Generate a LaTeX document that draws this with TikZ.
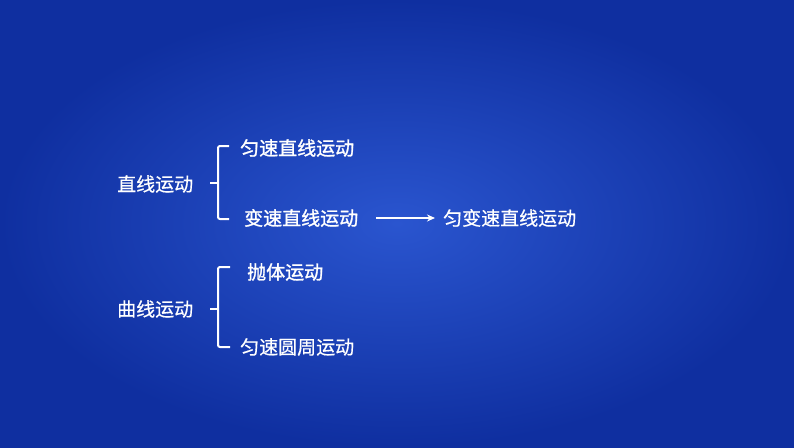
\documentclass[tikz,border=0pt]{standalone}
\usepackage{fontspec}
\newfontfamily\cjk[FakeBold=0.6]{Noto Sans CJK SC}
\newfontfamily\cjkb[FakeBold=1.4]{Noto Sans CJK SC}
\usetikzlibrary{arrows.meta}
\definecolor{bgin}{HTML}{2A55CF}
\definecolor{bgout}{HTML}{0F2FA0}
\begin{document}
\begin{tikzpicture}[x=1pt,y=-1pt,
  lbl/.style={text=white,font=\cjk\fontsize{19}{19}\selectfont,inner sep=0pt,anchor=west},
  lblb/.style={lbl,font=\cjkb\fontsize{19}{19}\selectfont},
  brace/.style={draw=white,line width=2pt,rounded corners=2pt},
  conn/.style={draw=white,line width=1.6pt,-{Stealth[length=8pt,width=7pt]}}]
\useasboundingbox (0,0) rectangle (794,447);
\shade[inner color=bgin,outer color=bgout] (0,0) rectangle (794,447);
% group 1
\node[lbl] (zx) at (117,184) {直线运动};
\node[lblb] (ys) at (240,148) {匀速直线运动};
\node[lblb] (bs) at (244,218) {变速直线运动};
\node[lbl] (ybs) at (443,218) {匀变速直线运动};
\draw[brace] (229,146) -- (218,146) -- (218,219) -- (229,219);
\draw[white,line width=2pt] (210,183) -- (218,183);
\draw[conn] (bs.east) ++(18,0) coordinate (a1) -- ([xshift=-8pt]ybs.west);
% group 2
\node[lbl] (qx) at (117,309) {曲线运动};
\node[lblb] (pt) at (247,272) {抛体运动};
\node[lbl] (yy) at (240,347) {匀速圆周运动};
\draw[brace] (230,267) -- (218,267) -- (218,347) -- (230,347);
\draw[white,line width=2pt] (210,309) -- (218,309);
\end{tikzpicture}
\end{document}
